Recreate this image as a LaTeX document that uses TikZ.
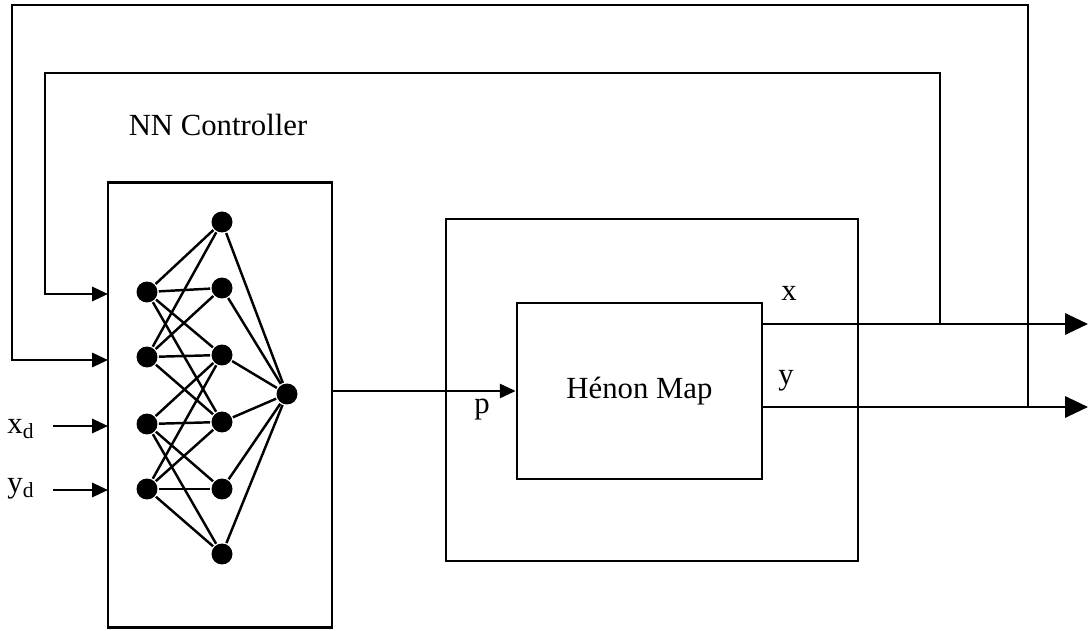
\documentclass[tikz,border=0pt]{standalone}
\usepackage{fontspec}
\setmainfont{Liberation Serif}
\usetikzlibrary{arrows.meta, positioning}

\begin{document}
\begin{tikzpicture}[x=0.02cm, y=-0.02cm, line width=1.5pt,
      every node/.style={font=\fontsize{17.5}{21}\selectfont, inner sep=0pt},
      neurona/.style={circle, fill=black, minimum size=0.42cm},
      caja/.style={draw, line width=1.6pt},
      sinapsis/.style={line width=1.4pt},
      entrada/.style={-{Triangle[length=9pt, width=8pt]}},
      salida/.style={-{Triangle[length=13pt, width=12pt]}}]
      \useasboundingbox (0,0) rectangle (1092,631);

      \node[caja, minimum width=4.48cm, minimum height=8.9cm] (nn) at (220,405) {};
      \node (tnn) at (218,125) {NN Controller};
      \node[caja, minimum width=8.24cm, minimum height=6.84cm] (planta) at (652,390) {};
      \node[caja, minimum width=4.9cm, minimum height=3.52cm] (hm) at (639.5,391) {Hénon Map};

      \foreach \n/\y in {1/292, 2/357, 3/424, 4/489}
        \node[neurona] (a\n) at (147,\y) {};
      \foreach \n/\y in {1/222, 2/288, 3/355, 4/422, 5/489, 6/554}
        \node[neurona] (b\n) at (222,\y) {};
      \node[neurona] (o) at (287,394) {};

      \foreach \i in {1,2} \foreach \j in {1,...,4}
        \draw[sinapsis] (a\i) -- (b\j);
      \foreach \i in {3,4} \foreach \j in {3,...,6}
        \draw[sinapsis] (a\i) -- (b\j);
      \foreach \j in {1,...,6}
        \draw[sinapsis] (b\j) -- (o);

      \coordinate (e1) at (108,294);
      \coordinate (e2) at (108,360);
      \coordinate (e3) at (108,426);
      \coordinate (e4) at (108,490);
      \coordinate (ix) at (53,426);
      \coordinate (iy) at (53,490);
      \coordinate (r1) at (45,73);
      \coordinate (r2) at (12,5);
      \coordinate (ox) at (940,324);
      \coordinate (oy) at (1028,407);
      \coordinate (fx) at (1088,324);
      \coordinate (fy) at (1088,407);

      \node (lxd) at (21,429) {x\textsubscript{d}};
      \node (lyd) at (21,489) {y\textsubscript{d}};
      \node (lp) at (482,410) {p};
      \node (lx) at (789,293) {x};
      \node (ly) at (786,381) {y};

      \draw[entrada] (ix) -- (e3);
      \draw[entrada] (iy) -- (e4);
      \draw[entrada] (nn.east |- hm.west) -- (hm.west);
      \draw[salida] (hm.east |- fx) -- (fx);
      \draw[salida] (hm.east |- fy) -- (fy);
      \draw[entrada] (ox) |- (r1) |- (e1);
      \draw[entrada] (oy) |- (r2) |- (e2);
    \end{tikzpicture}
\end{document}
